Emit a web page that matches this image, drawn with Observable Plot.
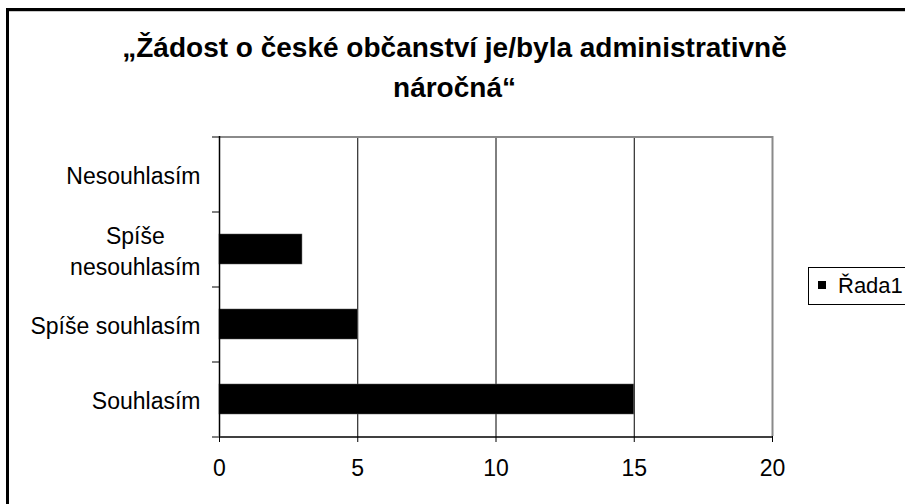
<!DOCTYPE html>
<html>
<head>
<meta charset="utf-8">
<script src="https://cdn.jsdelivr.net/npm/d3@7"></script>
<script src="https://cdn.jsdelivr.net/npm/@observablehq/plot@0.6"></script>
<style>
  html, body { margin: 0; padding: 0; background: #fff; }
  body { width: 905px; height: 504px; overflow: hidden; position: relative; font-family: "Liberation Sans", Arial, sans-serif; }
  #frame { position: absolute; left: 6px; top: 8px; width: 1000px; height: 1000px; border-left: 3px solid #000; border-top: 3px solid #000; }
  #frame-inner { position: absolute; left: 0; top: 0; width: 100%; height: 1px; background: #c8c8c8; }
  #title { position: absolute; left: 0; top: 28px; width: 909px; text-align: center; font-weight: bold; font-size: 28px; line-height: 40px; color: #000; }
  #chart { position: absolute; left: 0; top: 0; }
  #legend { position: absolute; left: 808px; top: 267px; width: 140px; height: 36px; border: 1px solid #000; background: #fff; }
  #legend .sw { position: absolute; left: 9px; top: 13px; width: 8px; height: 8px; background: #000; }
  #legend .lb { position: absolute; left: 29px; top: 0; line-height: 36px; font-size: 22px; color: #000; }
</style>
</head>
<body>
<div id="frame"><div id="frame-inner"></div></div>
<div id="chart"></div>
<div id="title"></div>
<div id="legend"><div class="sw"></div><div class="lb"></div></div>
<script>
const titleLines = ["„Žádost o české občanství je/byla administrativně", "náročná“"];
const categories = ["Nesouhlasím", "Spíše nesouhlasím", "Spíše souhlasím", "Souhlasím"];
const categoryLabels = ["Nesouhlasím", "Spíše\nnesouhlasím", "Spíše souhlasím", "Souhlasím"];
const values = [0, 3, 5, 15];
const xTicks = [0, 5, 10, 15, 20];
const gridTicks = [5, 10, 15];
const seriesName = "Řada1";

document.getElementById("title").innerHTML = titleLines.join("<br>");
document.querySelector("#legend .lb").textContent = seriesName;

const data = categories.map((c, i) => ({category: c, value: values[i]}));
const labelOf = new Map(categories.map((c, i) => [c, categoryLabels[i]]));
const half = 37.5;

const chart = Plot.plot({
  width: 905,
  height: 504,
  marginLeft: 219,
  marginRight: 133,
  marginTop: 136,
  marginBottom: 68,
  style: {fontFamily: "'Liberation Sans', Arial, sans-serif", fontSize: "23px", background: "transparent", color: "#000", overflow: "visible"},
  x: {domain: [0, 20], label: null},
  y: {domain: categories, paddingInner: 0.6, paddingOuter: 0.3, label: null},
  marks: [
    Plot.gridX(gridTicks, {stroke: "#000", strokeOpacity: 1}),
    Plot.ruleX([20], {stroke: "#8a8a8a", strokeWidth: 2}),
    Plot.ruleY([categories[0]], {dy: -half, stroke: "#8a8a8a", strokeWidth: 2}),
    Plot.barX(data, {x: "value", y: "category", fill: "#000", stroke: "#555", strokeWidth: 0.5}),
    Plot.ruleX([0], {stroke: "#000", strokeWidth: 1.5}),
    Plot.ruleY([categories[categories.length - 1]], {dy: half, stroke: "#000", strokeWidth: 1.5}),
    Plot.axisY({tickSize: 7, tickFormat: () => "", dy: -half, stroke: "#000", strokeOpacity: 1}),
    Plot.axisY([categories[categories.length - 1]], {tickSize: 7, tickFormat: () => "", dy: half, stroke: "#000", strokeOpacity: 1}),
    Plot.axisY({tickSize: 0, tickPadding: 19, tickFormat: c => labelOf.get(c), lineHeight: 1.35, fontSize: 23, fill: "#000"}),
    Plot.axisX(xTicks, {tickSize: 6, tickPadding: 17, fontSize: 23, label: null, stroke: "#000", fill: "#000", strokeOpacity: 1})
  ]
});
document.getElementById("chart").appendChild(chart);

// Center multi-line category labels within their right-aligned block
chart.querySelectorAll("text").forEach(t => {
  const spans = t.querySelectorAll("tspan");
  if (spans.length > 1) {
    const w = t.getBBox().width;
    t.setAttribute("text-anchor", "middle");
    t.setAttribute("transform", (t.getAttribute("transform") || "") + ` translate(${-w / 2},0)`);
  }
});
</script>
</body>
</html>
